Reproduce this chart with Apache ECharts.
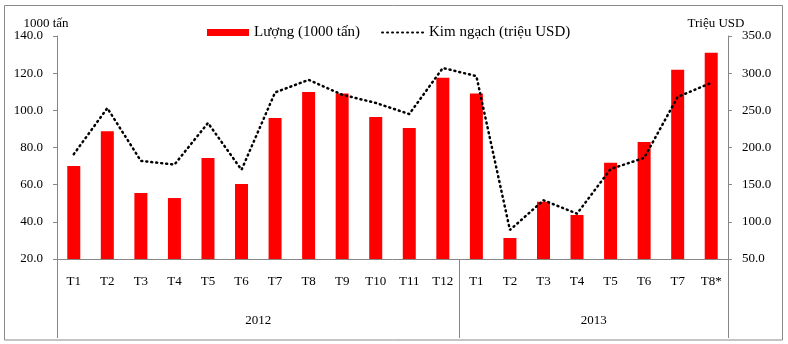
<!DOCTYPE html>
<html>
<head>
<meta charset="utf-8">
<script src="https://cdn.jsdelivr.net/npm/echarts@6/dist/echarts.min.js"></script>
<style>
  html, body { margin: 0; padding: 0; background: #fff; }
  #chart { width: 788px; height: 344px; }
</style>
</head>
<body>
<div id="chart"></div>
<script>
// Monthly export volume and value, 2012 – Aug 2013
const months = ['T1','T2','T3','T4','T5','T6','T7','T8','T9','T10','T11','T12',
                'T1','T2','T3','T4','T5','T6','T7','T8*'];
const years = ['2012', '2013'];
const yearSpans = [12, 8];           // months per year on the axis
const volume = [70.0, 88.8, 55.5, 52.8, 74.3, 60.4, 95.9, 109.9, 109.0, 96.4, 90.5, 117.6,
                109.0, 31.3, 50.8, 43.7, 71.8, 83.0, 121.8, 131.0];   // 1000 tấn
const value = [191, 253, 182, 177, 233, 170, 274, 291, 271, 260, 245, 307,
               296, 89, 129, 111, 171, 186, 268, 287];                 // triệu USD
const volumeName = 'Lượng (1000 tấn)';
const valueName = 'Kim ngạch (triệu USD)';

const FONT = '"Liberation Serif", "Times New Roman", serif';
const AXIS_GREY = '#868686';

// year boundaries and label centres on a 0..20 scale
const bounds = [0];
yearSpans.forEach(n => bounds.push(bounds[bounds.length - 1] + n));
const centres = yearSpans.map((n, i) => bounds[i] + n / 2);

const chart = echarts.init(document.getElementById('chart'), null, { renderer: 'canvas' });

chart.setOption({
  animation: false,
  textStyle: { fontFamily: FONT, color: '#000' },
  graphic: [{
    type: 'rect',
    shape: { x: 4.5, y: 5.5, width: 778, height: 334.5 },
    style: { fill: 'none', stroke: '#8a8a8a', lineWidth: 1 },
    silent: true
  }],
  legend: {
    left: 202,
    top: 20,
    itemWidth: 42,
    itemHeight: 7,
    itemGap: 21,
    textStyle: { fontFamily: FONT, fontSize: 15, color: '#000' },
    data: [
      { name: volumeName, icon: 'rect' },
      { name: valueName, itemStyle: { opacity: 0 } }
    ]
  },
  grid: { left: 57, right: 60, top: 36, bottom: 85, containLabel: false },
  xAxis: [{
    type: 'category',
    data: months,
    position: 'bottom',
    axisLine: { lineStyle: { color: AXIS_GREY, width: 1 } },
    axisTick: { show: false },
    axisLabel: { interval: 0, margin: 16, fontFamily: FONT, fontSize: 13, color: '#000' }
  }, {
    type: 'value',
    min: 0,
    max: 20,
    position: 'bottom',
    axisLine: { show: false },
    splitLine: { show: false },
    axisTick: {
      show: true,
      customValues: bounds,
      length: 79,
      lineStyle: { color: AXIS_GREY, width: 1 }
    },
    axisLabel: {
      customValues: centres,
      margin: 55,
      fontFamily: FONT,
      fontSize: 13,
      color: '#000',
      formatter: v => years[centres.indexOf(v)]
    }
  }],
  yAxis: [{
    type: 'value',
    min: 20,
    max: 140,
    interval: 20,
    name: '1000 tấn',
    nameLocation: 'end',
    nameGap: 6,
    nameTextStyle: { fontFamily: FONT, fontSize: 13, color: '#000', padding: [0, 22, 0, 0] },
    axisLine: { show: true, lineStyle: { color: AXIS_GREY } },
    axisTick: { show: true, length: 4, lineStyle: { color: AXIS_GREY } },
    splitLine: { show: false },
    axisLabel: { margin: 14, fontFamily: FONT, fontSize: 13, color: '#000', formatter: v => v.toFixed(1) }
  }, {
    type: 'value',
    min: 50,
    max: 350,
    interval: 50,
    position: 'right',
    name: 'Triệu USD',
    nameLocation: 'end',
    nameGap: 6,
    nameTextStyle: { fontFamily: FONT, fontSize: 13, color: '#000', padding: [0, 24, 0, 0] },
    axisLine: { show: true, lineStyle: { color: AXIS_GREY } },
    axisTick: { show: true, length: 4, lineStyle: { color: AXIS_GREY } },
    splitLine: { show: false },
    axisLabel: { margin: 14, fontFamily: FONT, fontSize: 13, color: '#000', formatter: v => v.toFixed(1) }
  }],
  series: [{
    name: volumeName,
    type: 'bar',
    xAxisIndex: 0,
    yAxisIndex: 0,
    barWidth: 13,
    itemStyle: { color: '#ff0000' },
    data: volume
  }, {
    name: valueName,
    type: 'line',
    xAxisIndex: 0,
    yAxisIndex: 1,
    symbol: 'none',
    showSymbol: false,
    lineStyle: { color: '#000', width: 2.5, type: [1, 4], cap: 'round' },
    itemStyle: { color: '#000' },
    data: value
  }]
});
</script>
</body>
</html>
